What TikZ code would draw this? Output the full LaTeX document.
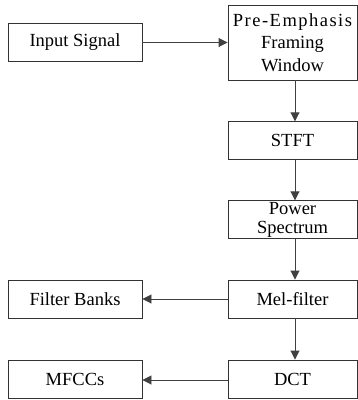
\documentclass[tikz,border=0pt]{standalone}
\usepackage{fontspec}
\setmainfont{Liberation Serif}
\usetikzlibrary{arrows.meta}
\begin{document}
\begin{tikzpicture}[x=1pt,y=-1pt,
  box/.style={draw=black!80,line width=0.9pt,inner sep=0pt,align=center,
    font=\fontsize{18.5}{22.5}\selectfont},
  lbox/.style={box,minimum width=134pt,minimum height=38.5pt},
  rbox/.style={box,minimum width=129pt,minimum height=37.5pt},
  arr/.style={draw=black!75,line width=0.9pt,-{Triangle[length=9pt,width=9pt]}}]
\useasboundingbox (0,0) rectangle (358,400);
\node[lbox] (in) at (75,42.5) {Input Signal};
\node[rbox,minimum height=75pt] (pre) at (292.5,42.5)
  {{\addfontfeature{LetterSpace=8}Pre-Emphasis}\\Framing\\Window};
\node[rbox] (stft) at (292.5,140.5) {STFT};
\node[rbox,font=\fontsize{18.5}{19}\selectfont] (pow) at (292.5,219.5) {Power\\Spectrum};
\node[rbox,minimum height=38pt] (mel) at (292.5,299) {Mel-filter};
\node[rbox,minimum height=38pt] (dct) at (292.5,379) {DCT};
\node[lbox,minimum height=38pt] (fb) at (75,299) {Filter Banks};
\node[lbox,minimum height=38pt] (mfcc) at (75,379) {MFCCs};
\draw[arr] (in.east) -- (pre.west |- in.east);
\draw[arr] ([xshift=2.5pt]pre.south) -- ([xshift=2.5pt]stft.north);
\draw[arr] ([xshift=2.5pt]stft.south) -- ([xshift=2.5pt]pow.north);
\draw[arr] ([xshift=2.5pt]pow.south) -- ([xshift=2.5pt]mel.north);
\draw[arr] ([xshift=2.5pt]mel.south) -- ([xshift=2.5pt]dct.north);
\draw[arr] (mel.west) -- (fb.east);
\draw[arr] ([yshift=-1pt]dct.west) -- ([yshift=-1pt]mfcc.east);
\end{tikzpicture}
\end{document}
